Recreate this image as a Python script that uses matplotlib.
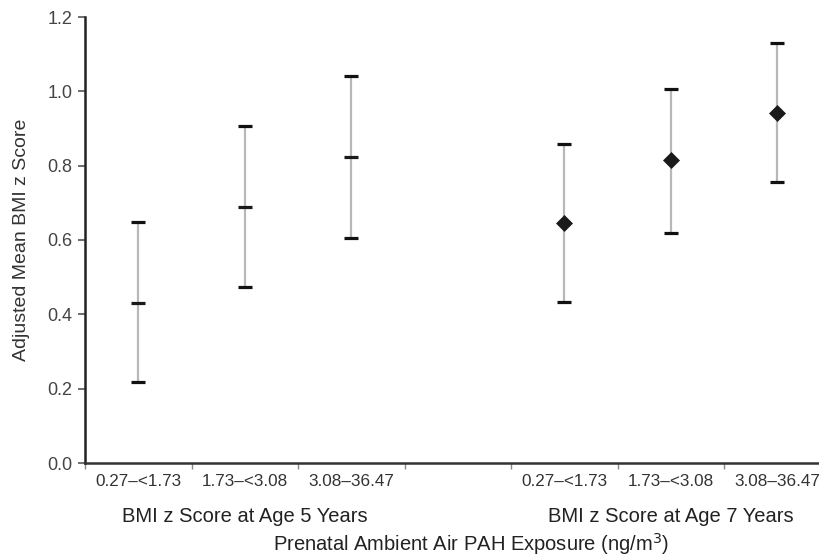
import matplotlib
matplotlib.use("Agg")
import matplotlib.pyplot as plt
import matplotlib.transforms as mtransforms

plt.rcParams['font.family'] = ['Liberation Sans', 'DejaVu Sans']

# Data
categories = ["0.27\u2013<1.73", "1.73\u2013<3.08", "3.08\u201336.47"]
group_labels = ["BMI z Score at Age 5 Years", "BMI z Score at Age 7 Years"]
age5_mean = [0.431, 0.690, 0.823]
age5_low = [0.218, 0.474, 0.606]
age5_high = [0.648, 0.907, 1.041]
age7_mean = [0.645, 0.814, 0.943]
age7_low = [0.432, 0.620, 0.756]
age7_high = [0.859, 1.007, 1.131]
x_age5 = [1, 2, 3]
x_age7 = [5, 6, 7]

W, H = 819, 559
fig = plt.figure(figsize=(W / 100, H / 100), dpi=100)
ax = fig.add_axes([85 / W, 96 / H, 745.5 / W, 446 / H])

def draw(xs, mean, low, high, marker, ms):
    yerr = [[m - l for m, l in zip(mean, low)], [h - m for m, h in zip(mean, high)]]
    _, caps, bars = ax.errorbar(xs, mean, yerr=yerr, fmt='none', ecolor='#b8b8b8',
                                elinewidth=1.6, capsize=4.7, capthick=2.3, zorder=2)
    for c in caps:
        c.set_markeredgecolor('#111111')
        c.set_markerfacecolor('#111111')
        c.set_zorder(3)
    ax.plot(xs, mean, ls='none', marker=marker, ms=ms, color='#1a1a1a',
            mew=2.3 if marker == '_' else 0.5, zorder=4)

draw(x_age5, age5_mean, age5_low, age5_high, '_', 9.4)
draw(x_age7, age7_mean, age7_low, age7_high, 'D', 8.5)

ax.set_xlim(0.5, 7.5)
ax.set_ylim(0, 1.2)
ax.set_yticks([0.0, 0.2, 0.4, 0.6, 0.8, 1.0, 1.2])
ax.set_yticklabels([f"{v:.1f}" for v in [0.0, 0.2, 0.4, 0.6, 0.8, 1.0, 1.2]])

# boundary ticks (major, unlabeled), category labels (minor, no tick)
ax.set_xticks([0.5 + i for i in range(8)])
ax.set_xticklabels([])
ax.set_xticks(x_age5 + x_age7, minor=True)
ax.set_xticklabels(categories + categories, minor=True)
ax.tick_params(axis='x', which='major', length=4, width=1, color='#888888', direction='out')
ax.tick_params(axis='x', which='minor', length=0, pad=8, labelsize=12.3, labelcolor='#333333')
ax.tick_params(axis='y', length=5, width=1.2, color='#555555', direction='out',
               labelsize=13, labelcolor='#444444', pad=4)

for s in ['top', 'right']:
    ax.spines[s].set_visible(False)
ax.spines['left'].set_linewidth(1.8)
ax.spines['bottom'].set_linewidth(1.8)
ax.spines['left'].set_color('#222222')
ax.spines['bottom'].set_color('#333333')

trans = mtransforms.blended_transform_factory(ax.transData, ax.transAxes)
ax.text(x_age5[1], -53 / 446, group_labels[0], transform=trans, ha='center', va='center',
        fontsize=14.5, color='#222222')
ax.text(x_age7[1], -53 / 446, group_labels[1], transform=trans, ha='center', va='center',
        fontsize=14.5, color='#222222')
ax.text((471 - 85) / 745.5, -81 / 446, "Prenatal Ambient Air PAH Exposure (ng/m$^3$)",
        transform=ax.transAxes, ha='center', va='center', fontsize=14.5, color='#222222')

fig.text(22 / W, 1 - 240 / H, "Adjusted Mean BMI z Score", rotation=90, ha='center',
         va='center', fontsize=14, color='#333333')

fig.savefig("out.png", dpi=100)
